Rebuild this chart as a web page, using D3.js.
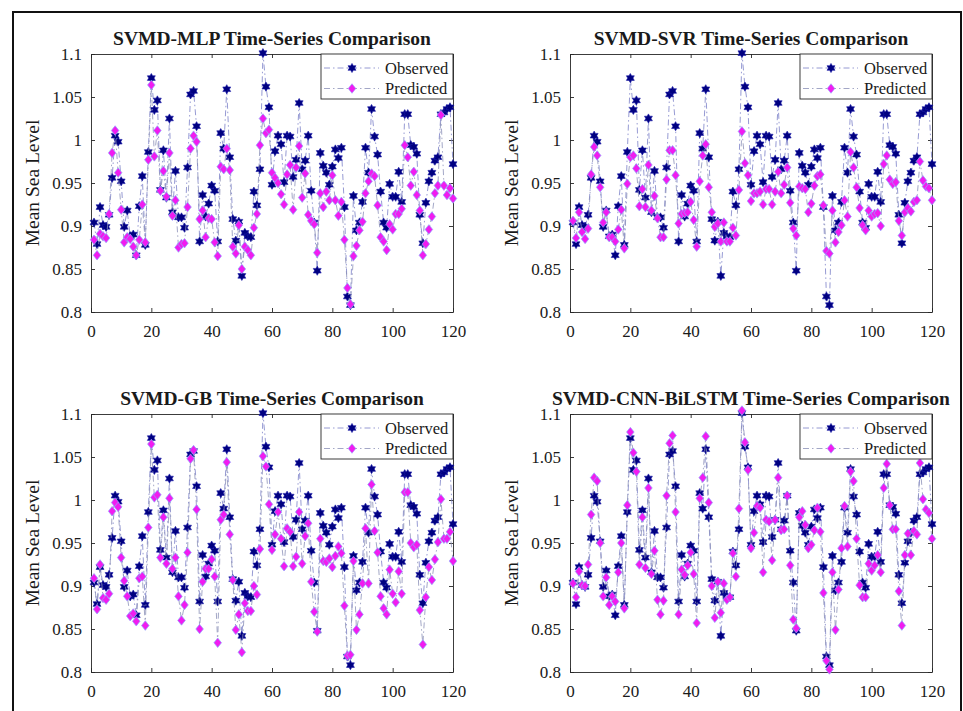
<!DOCTYPE html>
<html>
<head>
<meta charset="utf-8">
<script src="https://cdn.jsdelivr.net/npm/d3@7"></script>
<style>
  html, body { margin: 0; padding: 0; background: #ffffff; }
  svg { display: block; }
  text { font-family: "Liberation Serif", "Times New Roman", serif; fill: #1a1a1a; }
</style>
</head>
<body>
<svg id="chart" width="963" height="711"></svg>
<script>
// ---------------- data ----------------
const xTicks = [0, 20, 40, 60, 80, 100, 120];
const yTicks = [0.8, 0.85, 0.9, 0.95, 1, 1.05, 1.1];
const yTickLabels = ["0.8", "0.85", "0.9", "0.95", "1", "1.05", "1.1"];
const models = ["SVMD-MLP", "SVMD-SVR", "SVMD-GB", "SVMD-CNN-BiLSTM"];
const legendLabels = ["Observed", "Predicted"];
const yAxisLabel = "Mean Sea Level";

const observed = [
  0.904,0.879,0.922,0.901,0.899,0.913,0.956,1.005,0.998,0.952,
  0.899,0.918,0.888,0.890,0.866,0.923,0.958,0.878,0.986,1.072,
  1.035,1.046,0.942,0.988,0.933,1.025,0.916,0.964,0.910,0.910,
  0.898,0.968,1.053,1.057,1.016,0.882,0.936,0.911,0.926,0.947,
  0.941,0.882,1.008,0.990,1.059,0.980,0.908,0.883,0.905,0.842,
  0.892,0.888,0.887,0.940,0.924,0.966,1.101,1.062,1.038,0.948,
  0.987,1.005,0.995,0.951,1.005,1.004,0.957,0.977,1.043,0.966,
  0.976,1.005,0.941,0.904,0.848,0.985,0.970,0.962,0.948,0.969,
  0.989,0.979,0.991,0.922,0.818,0.808,0.935,0.895,0.904,0.928,
  0.991,0.962,1.036,1.004,0.983,0.940,0.904,0.898,0.949,0.934,
  0.934,0.963,0.928,1.030,1.030,0.994,0.992,0.984,0.913,0.880,
  0.927,0.952,0.962,0.976,0.980,1.030,1.032,1.036,1.038,0.972
];

const predMLP = [
  0.884,0.866,0.891,0.888,0.886,0.914,0.985,1.011,0.962,0.919,
  0.881,0.887,0.885,0.876,0.866,0.884,0.925,0.881,0.977,1.064,
  0.981,1.011,0.941,0.964,0.934,0.985,0.912,0.930,0.875,0.879,
  0.880,0.922,0.990,1.005,0.998,0.908,0.918,0.887,0.909,0.908,
  0.881,0.865,0.969,0.966,0.990,0.965,0.876,0.868,0.901,0.850,
  0.876,0.872,0.866,0.898,0.914,0.994,1.025,1.008,1.012,0.962,
  0.956,0.950,0.937,0.925,0.960,0.971,0.919,0.968,0.993,0.933,
  0.961,0.913,0.906,0.902,0.869,0.938,0.922,0.940,0.930,0.959,
  0.930,0.912,0.928,0.884,0.828,0.809,0.865,0.877,0.895,0.905,
  0.938,0.952,0.961,0.958,0.924,0.887,0.882,0.872,0.902,0.896,
  0.914,0.914,0.920,0.994,0.980,0.947,0.963,0.936,0.918,0.866,
  0.879,0.896,0.911,0.938,0.947,1.029,0.947,0.936,0.944,0.932
];

const predSVR = [
  0.906,0.886,0.916,0.893,0.885,0.897,0.960,0.992,0.982,0.945,
  0.904,0.916,0.887,0.887,0.882,0.896,0.919,0.874,0.949,0.980,
  0.982,0.967,0.923,0.943,0.922,0.971,0.918,0.935,0.909,0.887,
  0.887,0.954,0.988,0.988,0.959,0.903,0.914,0.915,0.916,0.928,
  0.907,0.876,0.952,0.982,0.995,0.945,0.916,0.899,0.903,0.882,
  0.904,0.882,0.882,0.898,0.889,0.942,1.010,0.973,0.959,0.929,
  0.938,0.938,0.940,0.925,0.943,0.943,0.925,0.940,0.963,0.938,
  0.948,0.968,0.927,0.897,0.889,0.946,0.944,0.943,0.916,0.926,
  0.947,0.958,0.960,0.924,0.871,0.868,0.918,0.881,0.893,0.901,
  0.930,0.911,0.986,0.968,0.945,0.921,0.901,0.895,0.918,0.911,
  0.914,0.915,0.900,0.972,0.982,0.954,0.949,0.951,0.906,0.889,
  0.916,0.921,0.917,0.928,0.930,0.975,0.953,0.946,0.944,0.930
];

const predGB = [
  0.909,0.873,0.925,0.886,0.884,0.891,0.987,0.997,0.992,0.933,
  0.906,0.888,0.865,0.868,0.859,0.909,0.911,0.854,0.968,1.065,
  1.003,1.006,0.933,0.980,0.926,1.002,0.920,0.933,0.888,0.860,
  0.878,0.939,1.048,1.058,0.989,0.850,0.905,0.920,0.920,0.931,
  0.911,0.834,0.977,0.983,1.044,0.960,0.907,0.849,0.867,0.823,
  0.880,0.871,0.871,0.900,0.890,0.943,1.051,1.039,0.995,0.942,
  0.960,0.986,0.955,0.923,0.967,0.963,0.923,0.934,0.986,0.926,
  0.958,0.973,0.905,0.870,0.847,0.955,0.929,0.928,0.932,0.922,
  0.935,0.946,0.938,0.877,0.819,0.820,0.929,0.849,0.867,0.903,
  0.967,0.903,1.018,0.964,0.939,0.888,0.874,0.867,0.919,0.891,
  0.881,0.917,0.891,1.009,1.009,0.950,0.945,0.948,0.872,0.832,
  0.887,0.922,0.907,0.931,0.951,1.001,0.955,0.955,0.963,0.929
];

const predCNN = [
  0.903,0.887,0.917,0.901,0.900,0.925,0.983,1.026,1.022,0.950,
  0.888,0.910,0.878,0.888,0.882,0.916,0.950,0.874,0.994,1.079,
  1.055,1.033,0.925,0.980,0.921,1.014,0.914,0.941,0.884,0.867,
  0.883,1.005,1.066,1.075,0.986,0.867,0.919,0.913,0.924,0.939,
  0.914,0.857,1.002,1.026,1.074,0.997,0.900,0.863,0.905,0.869,
  0.903,0.884,0.887,0.938,0.911,0.990,1.104,1.067,1.035,0.944,
  0.962,0.993,0.991,0.916,0.977,0.975,0.930,0.977,1.026,0.965,
  0.966,1.005,0.924,0.861,0.851,0.980,0.987,0.971,0.944,0.948,
  0.965,0.991,0.963,0.892,0.813,0.803,0.916,0.849,0.896,0.944,
  0.993,0.946,1.033,1.022,0.955,0.901,0.887,0.887,0.926,0.918,
  0.924,0.936,0.916,1.014,1.042,0.994,0.966,0.966,0.894,0.854,
  0.936,0.961,0.936,0.964,0.960,1.043,1.001,0.989,0.985,0.955
];

const predictions = [predMLP, predSVR, predGB, predCNN];

// ---------------- layout / style ----------------
const svg = d3.select("#chart");
const W = 362, H = 258;
const origins = [[91, 54], [570, 54], [91, 414], [570, 414]];
const obsColor = "#000080";
const obsLine = "#7b80c8";
const predFill = "#f01cf0";
const predStroke = "#8fa8ff";
const predLine = "#8c90b8";
const axisColor = "#262626";
const dash = "6,3,1.5,3";

// outer frame (left, top and right edges visible)
svg.append("line").attr("x1", 13).attr("x2", 13).attr("y1", 11).attr("y2", 711)
  .attr("stroke", "#111").attr("stroke-width", 2);
svg.append("line").attr("x1", 12).attr("x2", 962).attr("y1", 12).attr("y2", 12)
  .attr("stroke", "#111").attr("stroke-width", 2);
svg.append("line").attr("x1", 961).attr("x2", 961).attr("y1", 11).attr("y2", 711)
  .attr("stroke", "#111").attr("stroke-width", 2);

function hexagram(R) {
  const pts = [];
  for (let k = 0; k < 12; k++) {
    const a = -Math.PI / 2 + k * Math.PI / 6;
    const r = k % 2 === 0 ? R : R * 0.58;
    pts.push([(r * Math.cos(a)).toFixed(2), (r * Math.sin(a)).toFixed(2)]);
  }
  return "M" + pts.map(p => p.join(",")).join("L") + "Z";
}
function diamond(w, h) {
  return `M0,${-h}L${w},0L0,${h}L${-w},0Z`;
}
const starPath = hexagram(4.6);
const diaPath = diamond(3.8, 4.8);

models.forEach((model, m) => {
  const [x0, y0] = origins[m];
  const g = svg.append("g");
  const x = d3.scaleLinear().domain([0, 120]).range([x0, x0 + W]);
  const y = d3.scaleLinear().domain([0.8, 1.1]).range([y0 + H, y0]);
  const idx = d3.range(1, observed.length + 1);

  g.append("rect").attr("x", x0).attr("y", y0).attr("width", W).attr("height", H)
    .attr("fill", "#ffffff");

  // axes with inward ticks on all four sides
  const bottom = g.append("g").attr("transform", `translate(0,${y0 + H})`)
    .call(d3.axisBottom(x).tickValues(xTicks).tickSizeInner(-4).tickSizeOuter(0).tickPadding(0));
  bottom.selectAll("text").attr("y", 13).attr("dy", "0.71em");
  const top = g.append("g").attr("transform", `translate(0,${y0})`)
    .call(d3.axisTop(x).tickValues(xTicks).tickSizeInner(-4).tickSizeOuter(0).tickFormat(""));
  const left = g.append("g").attr("transform", `translate(${x0},0)`)
    .call(d3.axisLeft(y).tickValues(yTicks).tickSizeInner(-4).tickSizeOuter(0)
      .tickFormat((d, i) => yTickLabels[i]));
  left.selectAll("text").attr("x", -9);
  const right = g.append("g").attr("transform", `translate(${x0 + W},0)`)
    .call(d3.axisRight(y).tickValues(yTicks).tickSizeInner(-4).tickSizeOuter(0).tickFormat(""));
  [bottom, top, left, right].forEach(a => {
    a.select(".domain").attr("stroke", axisColor).attr("stroke-width", 0.9);
    a.selectAll(".tick line").attr("stroke", axisColor).attr("stroke-width", 0.9);
    a.selectAll("text").attr("font-family", "Liberation Serif, serif")
      .attr("font-size", 17).attr("fill", "#1a1a1a");
  });

  // title
  g.append("text").attr("x", x0 + W / 2).attr("y", y0 - 9)
    .attr("text-anchor", "middle").attr("font-weight", "bold").attr("font-size", 19.5)
    .text(model + " Time-Series Comparison");

  // y label
  g.append("text")
    .attr("transform", `translate(${x0 - 52},${y0 + H / 2}) rotate(-90)`)
    .attr("text-anchor", "middle").attr("font-size", 19.5)
    .text(yAxisLabel);

  const line = d3.line().x((d, i) => x(idx[i])).y(d => y(d));
  const pred = predictions[m];

  // observed series
  g.append("path").datum(observed).attr("d", line).attr("fill", "none")
    .attr("stroke", obsLine).attr("stroke-width", 0.8).attr("stroke-dasharray", dash);
  g.append("g").selectAll("path").data(observed).join("path")
    .attr("d", starPath)
    .attr("transform", (d, i) => `translate(${x(idx[i])},${y(d)})`)
    .attr("fill", obsColor).attr("stroke", "#1a1aa8").attr("stroke-width", 0.6);

  // predicted series
  g.append("path").datum(pred).attr("d", line).attr("fill", "none")
    .attr("stroke", predLine).attr("stroke-width", 0.8).attr("stroke-dasharray", dash);
  g.append("g").selectAll("path").data(pred).join("path")
    .attr("d", diaPath)
    .attr("transform", (d, i) => `translate(${x(idx[i])},${y(d)})`)
    .attr("fill", predFill).attr("stroke", predStroke).attr("stroke-width", 0.7);

  // legend
  const lw = 132, lh = 45;
  const lx = x0 + W - lw, ly = y0;
  const lg = g.append("g");
  lg.append("rect").attr("x", lx).attr("y", ly).attr("width", lw).attr("height", lh)
    .attr("fill", "#ffffff").attr("stroke", axisColor).attr("stroke-width", 0.9);
  legendLabels.forEach((lab, k) => {
    const cy = ly + 14 + k * 20.5;
    lg.append("line").attr("x1", lx + 3).attr("x2", lx + 58).attr("y1", cy).attr("y2", cy)
      .attr("stroke", k === 0 ? obsLine : predLine).attr("stroke-width", 0.8)
      .attr("stroke-dasharray", dash);
    lg.append("path").attr("d", k === 0 ? starPath : diaPath)
      .attr("transform", `translate(${lx + 31},${cy})`)
      .attr("fill", k === 0 ? obsColor : predFill)
      .attr("stroke", k === 0 ? "#1a1aa8" : predStroke).attr("stroke-width", 0.6);
    lg.append("text").attr("x", lx + 64).attr("y", cy).attr("dy", "0.35em")
      .attr("font-size", 16.5).text(lab);
  });
});
</script>
</body>
</html>
